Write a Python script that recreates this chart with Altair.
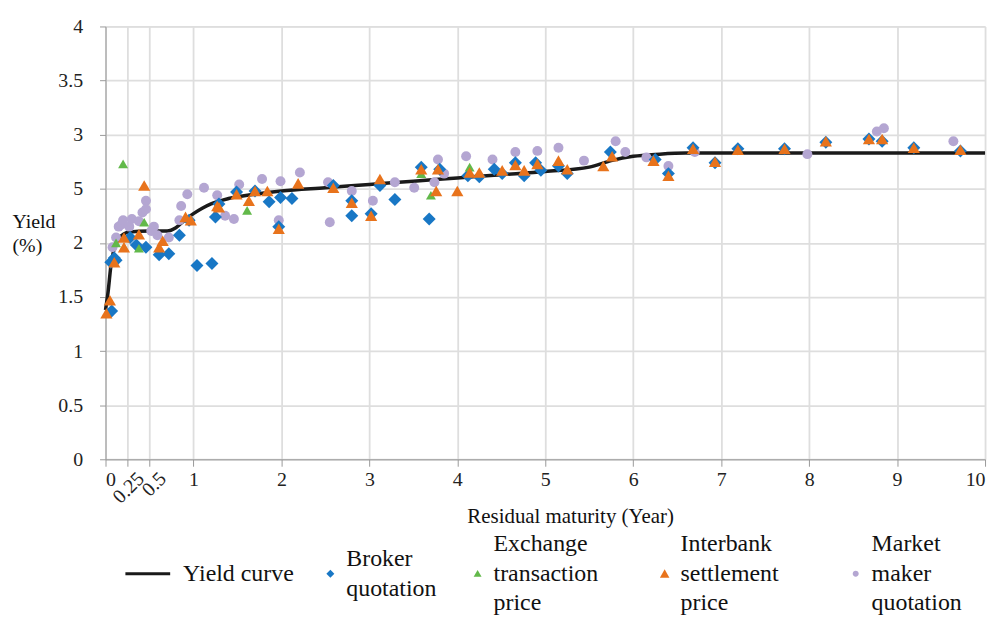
import altair as alt
import pandas as pd

# ---------------- data ----------------
curve_x = [0.0, 0.03, 0.06, 0.10, 0.15, 0.27, 0.50, 0.70, 0.80, 0.90, 1.00, 1.10, 1.20,
           1.40, 1.70, 2.00, 2.50, 3.00, 3.50, 4.00, 4.50, 5.00, 5.50, 5.75, 6.00, 6.30,
           6.60, 7.00, 8.00, 9.00, 10.0]
curve_y = [1.38, 1.55, 1.78, 1.95, 2.04, 2.10, 2.11, 2.11, 2.14, 2.21, 2.27, 2.32, 2.36,
           2.41, 2.45, 2.48, 2.51, 2.54, 2.57, 2.60, 2.63, 2.66, 2.70, 2.76, 2.80, 2.82,
           2.83, 2.83, 2.83, 2.83, 2.83]

broker_x = [0.07, 0.06, 0.10, 0.12, 0.28, 0.35, 0.46, 0.61, 0.72, 0.84, 0.95, 1.04, 1.21,
            1.25, 1.29, 1.49, 1.70, 1.86, 1.99, 2.12, 1.97, 2.59, 2.80, 2.80, 3.02, 3.12,
            3.29, 3.59, 3.68, 3.80, 4.12, 4.25, 4.42, 4.51, 4.66, 4.76, 4.89, 4.95, 5.15,
            5.25, 5.74, 6.25, 6.40, 6.68, 6.93, 7.19, 7.72, 8.19, 8.68, 8.83, 9.19, 9.72]
broker_y = [1.37, 1.82, 1.86, 1.84, 2.05, 1.98, 1.96, 1.89, 1.90, 2.07, 2.21, 1.79, 1.81,
            2.24, 2.36, 2.47, 2.48, 2.38, 2.42, 2.41, 2.15, 2.53, 2.39, 2.25, 2.27, 2.53,
            2.40, 2.70, 2.22, 2.68, 2.62, 2.61, 2.68, 2.64, 2.74, 2.62, 2.74, 2.67, 2.71,
            2.64, 2.84, 2.77, 2.64, 2.88, 2.74, 2.87, 2.87, 2.93, 2.96, 2.94, 2.88, 2.85]

exch_x = [0.20, 0.21, 0.38, 0.44, 0.12, 1.61, 3.59, 3.70, 4.14, 2.59]
exch_y = [2.73, 1.96, 1.95, 2.19, 2.00, 2.30, 2.64, 2.44, 2.70, 2.50]

inter_x = [0.01, 0.05, 0.10, 0.21, 0.21, 0.38, 0.44, 0.61, 0.65, 0.91, 0.97, 1.27, 1.29,
           1.49, 1.63, 1.70, 1.84, 1.97, 2.19, 2.59, 2.80, 3.02, 3.12, 3.59, 3.76, 3.78,
           4.00, 4.14, 4.25, 4.51, 4.66, 4.76, 4.91, 5.15, 5.25, 5.66, 5.76, 6.23, 6.40,
           6.68, 6.93, 7.19, 7.72, 8.19, 8.68, 8.83, 9.19, 9.72]
inter_y = [1.35, 1.47, 1.82, 2.05, 1.96, 2.08, 2.53, 1.96, 2.02, 2.24, 2.21, 2.34, 2.33,
           2.45, 2.39, 2.48, 2.48, 2.13, 2.55, 2.51, 2.37, 2.25, 2.59, 2.68, 2.48, 2.68,
           2.48, 2.65, 2.65, 2.67, 2.72, 2.67, 2.73, 2.76, 2.68, 2.71, 2.80, 2.76, 2.62,
           2.87, 2.75, 2.86, 2.87, 2.94, 2.96, 2.96, 2.88, 2.86]

mm_x = [0.08, 0.12, 0.15, 0.18, 0.20, 0.27, 0.30, 0.38, 0.42, 0.46, 0.46, 0.52, 0.55,
        0.59, 0.72, 0.84, 0.86, 0.93, 1.12, 1.27, 1.36, 1.46, 1.52, 1.78, 1.97, 1.99,
        2.21, 2.53, 2.55, 2.80, 3.04, 3.29, 3.51, 3.74, 3.78, 3.85, 4.10, 4.40, 4.66,
        4.91, 5.15, 5.44, 5.80, 5.91, 6.15, 6.40, 6.70, 7.98, 8.77, 8.85, 9.64]
mm_y = [1.96, 2.05, 2.15, 2.17, 2.21, 2.15, 2.22, 2.20, 2.28, 2.39, 2.31, 2.11, 2.15,
        2.07, 2.05, 2.21, 2.34, 2.45, 2.51, 2.44, 2.25, 2.22, 2.54, 2.59, 2.21, 2.57,
        2.65, 2.56, 2.19, 2.48, 2.39, 2.56, 2.51, 2.56, 2.77, 2.64, 2.80, 2.77, 2.84,
        2.85, 2.88, 2.76, 2.94, 2.84, 2.79, 2.71, 2.84, 2.82, 3.03, 3.06, 2.94]

series_names = ["Yield curve", "Broker quotation", "Exchange transaction price",
                "Interbank settlement price", "Market maker quotation"]
x_grid_values = [0, 0.25, 0.5, 1, 2, 3, 4, 5, 6, 7, 8, 9, 10]
x_rot_values = [0.25, 0.5]
y_values = [0, 0.5, 1, 1.5, 2, 2.5, 3, 3.5, 4]

# ---------------- styling ----------------
FONT = "Liberation Serif, Times New Roman, Times, DejaVu Serif, serif"
C_LINE, C_BLUE, C_GREEN, C_ORANGE, C_PURPLE = "#1a1a1a", "#1877C5", "#62B94A", "#E8731C", "#B4A6D2"
colors = [C_LINE, C_BLUE, C_GREEN, C_ORANGE, C_PURPLE]
# legend symbols (unit = 4px); multi-line entries get their symbol moved to the middle line.
# A trailing bare move-to widens an entry's box so the entries sit where the reference has them.
legend_shapes = [
    "M-10.5,-0.38L0.75,-0.38L0.75,0.38L-10.5,0.38Z",
    "M-1,3.75L0,2.75L1,3.75L0,4.75ZM28,3.75",
    "M-1,8.3L1,8.3L0,6.6ZM38,7.5",
    "M-1.2,8.5L1.2,8.5L0,6.4ZM39,7.5",
    "M-0.75,7.5A0.75,0.75 0 1,0 0.75,7.5A0.75,0.75 0 1,0 -0.75,7.5Z",
]

curve_df = pd.DataFrame({"x": curve_x, "y": curve_y})
mm_df = pd.DataFrame({"x": mm_x, "y": mm_y})
broker_df = pd.DataFrame({"x": broker_x, "y": broker_y})
exch_df = pd.DataFrame({"x": exch_x, "y": exch_y})
inter_df = pd.DataFrame({"x": inter_x, "y": inter_y})
legend_df = pd.DataFrame({"x": [0.0] * 5, "y": [0.0] * 5, "series": series_names})

xscale = alt.Scale(domain=[0, 10], nice=False, zero=False)
yscale = alt.Scale(domain=[0, 4], nice=False)

y_axis = alt.Axis(
    values=y_values,
    labelExpr="datum.value == 2.5 ? '5' : format(datum.value, '~g')",
    title=["Yield", "(%)"], titleAngle=0, titleAlign="left", titleBaseline="middle",
    titleX=-94, titleY=196, titleFont=FONT, titleFontSize=20, titleFontWeight="normal",
    titleColor="#111",
    labelFont=FONT, labelFontSize=20, labelColor="#222", labelPadding=17,
    labelAlign="right",
    tickSize=6, tickColor="#999", domainColor="#999",
    grid=True, gridColor="#dedede", gridWidth=1.8,
)

x_axis_main = alt.Axis(
    values=x_grid_values,
    labelExpr="(datum.value == 0.25 || datum.value == 0.5) ? '' : format(datum.value, '~g')",
    title="Residual maturity (Year)", titleX=467, titleY=58, titleAlign="center",
    titleBaseline="middle", titleFont=FONT, titleFontSize=21, titleFontWeight="normal",
    titleColor="#111",
    labelFont=FONT, labelFontSize=20, labelColor="#222", labelPadding=3, labelAngle=0,
    tickSize=7, tickColor="#999", domainColor="#999",
    grid=True, gridColor="#dedede", gridWidth=1.8, orient="bottom",
)

x_axis_rot = alt.Axis(
    values=x_rot_values, orient="bottom", labelAngle=-45, labelAlign="right",
    labelBaseline="top", labelFont=FONT, labelFontSize=20, labelColor="#222",
    labelExpr="format(datum.value, '~g')", labelOffset=6,
    labelPadding=9, ticks=False, domain=False, grid=False, title=None, labelOverlap=False,
)


def enc(chart, xaxis):
    return chart.encode(
        x=alt.X("x:Q", scale=xscale, axis=xaxis),
        y=alt.Y("y:Q", scale=yscale, axis=y_axis),
    )


line = enc(alt.Chart(curve_df).mark_line(color=C_LINE, strokeWidth=3.5,
                                         interpolate="monotone"), x_axis_main)
mm_pts = enc(alt.Chart(mm_df).mark_point(filled=True, opacity=1, shape="circle",
                                         size=100, color=C_PURPLE), x_axis_rot)
broker_pts = enc(alt.Chart(broker_df).mark_point(filled=True, opacity=1, shape="diamond",
                                                 size=170, color=C_BLUE), None)
exch_pts = enc(alt.Chart(exch_df).mark_point(filled=True, opacity=1, shape="triangle-up",
                                             size=100, color=C_GREEN), None)
inter_pts = enc(alt.Chart(inter_df).mark_point(filled=True, opacity=1, shape="triangle-up",
                                               size=150, color=C_ORANGE), None)

legend = alt.Legend(
    title=None, orient="none", legendX=50, legendY=508, direction="horizontal",
    columns=5, columnPadding=24, padding=0, symbolSize=64, labelOffset=4,
    labelFont=FONT, labelFontSize=24, labelColor="#111", labelBaseline="middle",
    labelLimit=300,
    labelExpr=("datum.label == 'Broker quotation' ? ['Broker','quotation'] : "
               "datum.label == 'Exchange transaction price' ? ['Exchange','transaction','price'] : "
               "datum.label == 'Interbank settlement price' ? ['Interbank','settlement','price'] : "
               "datum.label == 'Market maker quotation' ? ['Market','maker','quotation'] : datum.label"),
)

legend_layer = alt.Chart(legend_df).mark_point(filled=True, opacity=1, size=64).encode(
    x=alt.X("x:Q", scale=xscale, axis=None),
    y=alt.Y("y:Q", scale=yscale, axis=y_axis),
    color=alt.Color("series:N", scale=alt.Scale(domain=series_names, range=colors),
                    legend=legend),
    shape=alt.Shape("series:N", scale=alt.Scale(domain=series_names, range=legend_shapes),
                    legend=legend),
).transform_filter("false")

chart = alt.layer(line, mm_pts, broker_pts, exch_pts, inter_pts, legend_layer).resolve_axis(
    x="independent"
).properties(
    width=884, height=435,
    autosize=alt.AutoSizeParams(type="none"),
    padding={"left": 98, "top": 17, "right": 8, "bottom": 163},
    background="white",
).configure_view(strokeWidth=0).configure(
    style={"guide-label": {"lineHeight": 30}, "guide-title": {"lineHeight": 24}}
)

chart.save("out.html", embed_options={"renderer": "svg", "actions": False})
